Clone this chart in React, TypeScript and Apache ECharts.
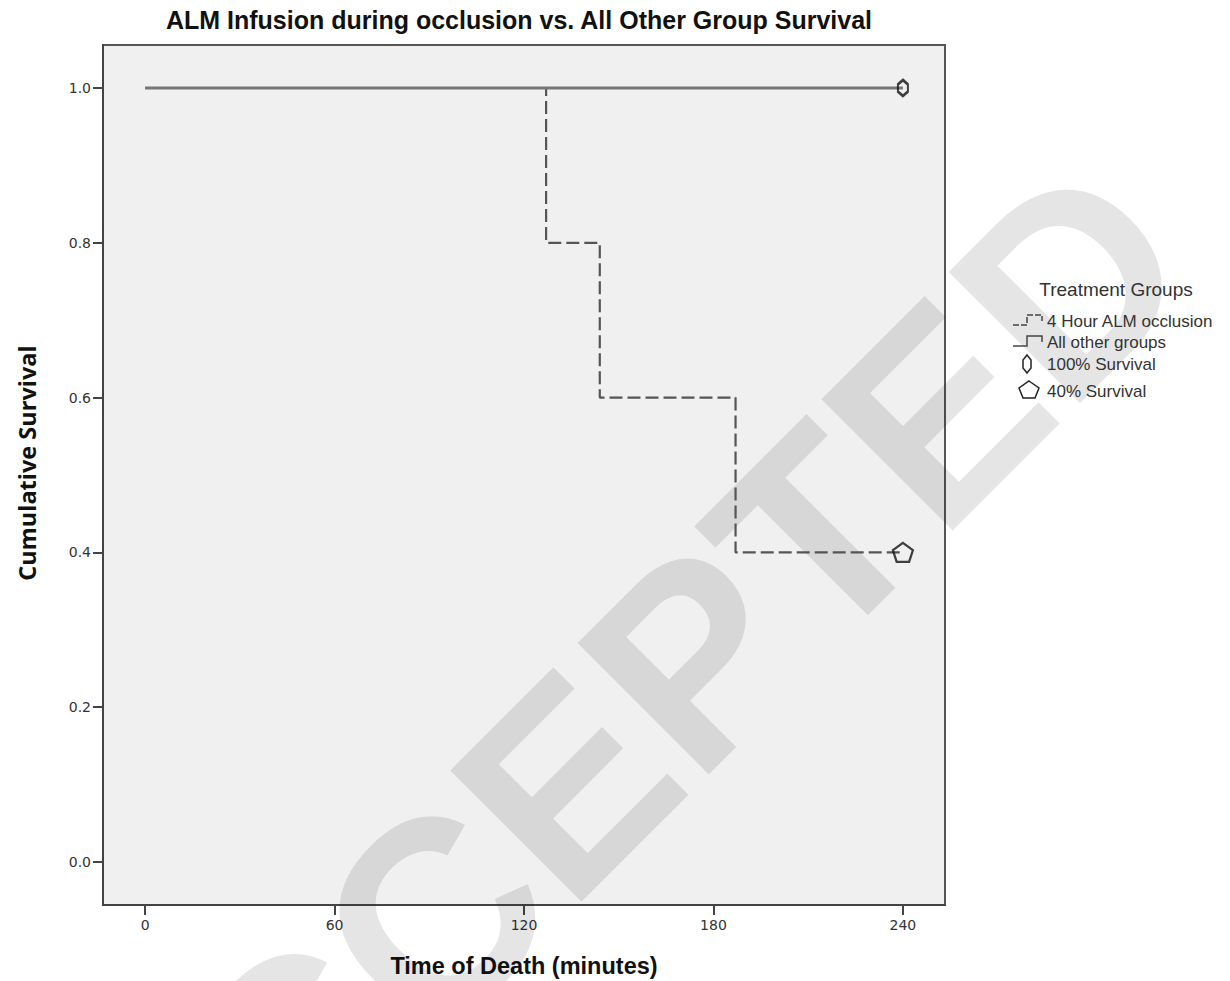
import React, { useEffect, useRef } from "react";
import * as echarts from "echarts";

const chartTitle = "ALM Infusion during occlusion vs. All Other Group Survival";
const xAxisTitle = "Time of Death (minutes)";
const yAxisTitle = "Cumulative Survival";
const legendTitle = "Treatment Groups";

const xTicks = [0, 60, 120, 180, 240];
const yTicks = [0, 0.2, 0.4, 0.6, 0.8, 1.0];

// "All other groups" survival curve (time, cumulative survival)
const otherGroupsTimes = [0, 240];
const otherGroupsSurvival = [1.0, 1.0];

// "4 Hour ALM occlusion" survival curve
const almTimes = [0, 127, 144, 187, 240];
const almSurvival = [1.0, 0.8, 0.6, 0.4, 0.4];

// censored end points
const survival100 = [[240, 1.0]];
const survival40 = [[240, 0.4]];

const seriesNames = ["4 Hour ALM occlusion", "All other groups", "100% Survival", "40% Survival"];

const hexPath = "path://M5,0 L10,6 L10,16 L5,22 L0,16 L0,6 Z";
const pentPath = "path://M10,0 L20,7.3 L16.2,19 L3.8,19 L0,7.3 Z";

export default function App() {
  const ref = useRef<HTMLDivElement>(null);

  useEffect(() => {
    document.body.style.margin = "0";
    if (!ref.current) return;
    const chart = echarts.init(ref.current, null, { renderer: "svg" });

    const almData = almTimes.map((t, i) => [t, almSurvival[i]]);
    const otherData = otherGroupsTimes.map((t, i) => [t, otherGroupsSurvival[i]]);

    const legendX = 1013;
    const stepIcon = (y: number, dashed: boolean) => ({
      type: "polyline",
      shape: {
        points: [
          [legendX, y + 5],
          [legendX + 14, y + 5],
          [legendX + 14, y - 5],
          [legendX + 29, y - 5],
          [legendX + 29, y + 1],
        ],
      },
      style: {
        stroke: "#444",
        lineWidth: 1.5,
        fill: null,
        lineDash: dashed ? [6, 2] : null,
      },
      z: 10,
    });

    const legendText = (text: string, y: number) => ({
      type: "text",
      x: 1047,
      y,
      style: {
        text,
        font: "17px 'Liberation Sans', Arial, sans-serif",
        fill: "#333",
        verticalAlign: "middle",
        align: "left",
      },
      z: 10,
    });

    chart.setOption({
      animation: false,
      backgroundColor: "#ffffff",
      grid: {
        left: 103,
        top: 45,
        width: 842,
        height: 860,
        show: true,
        backgroundColor: "#f0f0f0",
        borderColor: "#555",
        borderWidth: 2,
        outerBoundsMode: "none",
        containLabel: false,
      },
      xAxis: {
        type: "value",
        min: -40 / 3,
        max: 760 / 3,
        splitLine: { show: false },
        axisLine: { show: true, onZero: false, lineStyle: { color: "#444", width: 2 } },
        axisTick: { show: true, customValues: xTicks, length: 10, lineStyle: { color: "#444", width: 2 } },
        axisLabel: {
          customValues: xTicks,
          formatter: (v: number) => String(v),
          color: "#333",
          fontSize: 14,
          fontFamily: "'DejaVu Sans', Verdana, sans-serif",
          margin: 13,
        },
        name: xAxisTitle,
        nameLocation: "middle",
        nameGap: 49,
        nameTextStyle: {
          fontSize: 23.5,
          fontWeight: "bold",
          color: "#111",
          fontFamily: "'Liberation Sans', Arial, sans-serif",
        },
      },
      yAxis: {
        type: "value",
        min: -1 / 18,
        max: 19 / 18,
        splitLine: { show: false },
        axisLine: { show: true, onZero: false, lineStyle: { color: "#444", width: 2 } },
        axisTick: { show: true, customValues: yTicks, length: 10, lineStyle: { color: "#444", width: 2 } },
        axisLabel: {
          customValues: yTicks,
          formatter: (v: number) => v.toFixed(1),
          color: "#333",
          fontSize: 14,
          fontFamily: "'DejaVu Sans', Verdana, sans-serif",
          margin: 12,
        },
      },
      series: [
        {
          name: seriesNames[0],
          type: "line",
          step: "end",
          data: almData,
          showSymbol: false,
          symbol: "none",
          lineStyle: { color: "#555", width: 2.2, type: [13, 5] },
          z: 2,
        },
        {
          name: seriesNames[1],
          type: "line",
          data: otherData,
          showSymbol: false,
          symbol: "none",
          lineStyle: { color: "#777", width: 3 },
          z: 3,
        },
        {
          name: seriesNames[2],
          type: "scatter",
          data: survival100,
          symbol: hexPath,
          symbolSize: [10, 16],
          itemStyle: { color: "rgba(0,0,0,0)", borderColor: "#111", borderWidth: 2.5 },
          z: 5,
        },
        {
          name: seriesNames[3],
          type: "scatter",
          data: survival40,
          symbol: pentPath,
          symbolSize: [20, 19],
          itemStyle: { color: "rgba(0,0,0,0)", borderColor: "#111", borderWidth: 2.2 },
          z: 5,
        },
      ],
      graphic: [
        {
          type: "text",
          x: 519,
          y: 20,
          style: {
            text: chartTitle,
            font: "bold 25px 'Liberation Sans', Arial, sans-serif",
            fill: "#111",
            align: "center",
            verticalAlign: "middle",
          },
          z: 10,
        },
        {
          type: "text",
          x: 27,
          y: 463,
          rotation: Math.PI / 2,
          style: {
            text: yAxisTitle,
            font: "bold 23.5px 'Open Sans', 'Liberation Sans', sans-serif",
            fill: "#111",
            align: "center",
            verticalAlign: "middle",
          },
          z: 10,
        },
        {
          type: "text",
          x: 1116,
          y: 289,
          style: {
            text: legendTitle,
            font: "19px 'Liberation Sans', Arial, sans-serif",
            fill: "#333",
            align: "center",
            verticalAlign: "middle",
          },
          z: 10,
        },
        stepIcon(320, true),
        legendText(seriesNames[0], 321),
        stepIcon(341, false),
        legendText(seriesNames[1], 342),
        {
          type: "polygon",
          shape: { points: [[1027, 355], [1031, 360], [1031, 368], [1027, 373], [1023, 368], [1023, 360]] },
          style: { stroke: "#222", lineWidth: 1.5, fill: null },
          z: 10,
        },
        legendText(seriesNames[2], 364),
        {
          type: "polygon",
          shape: {
            points: [[1029, 381], [1039, 388], [1035, 398], [1023, 398], [1019, 388]],
          },
          style: { stroke: "#222", lineWidth: 1.5, fill: null },
          z: 10,
        },
        legendText(seriesNames[3], 391),
        {
          type: "text",
          x: 614,
          y: 737,
          rotation: Math.PI / 4,
          style: {
            text: "ACCEPTED",
            font: "bold 270px 'Liberation Sans', Arial, sans-serif",
            fill: "rgba(0,0,0,0.1)",
            align: "center",
            verticalAlign: "middle",
          },
          z: 1,
        },
      ],
    });

    return () => chart.dispose();
  }, []);

  return <div ref={ref} style={{ width: 1230, height: 981 }} />;
}
